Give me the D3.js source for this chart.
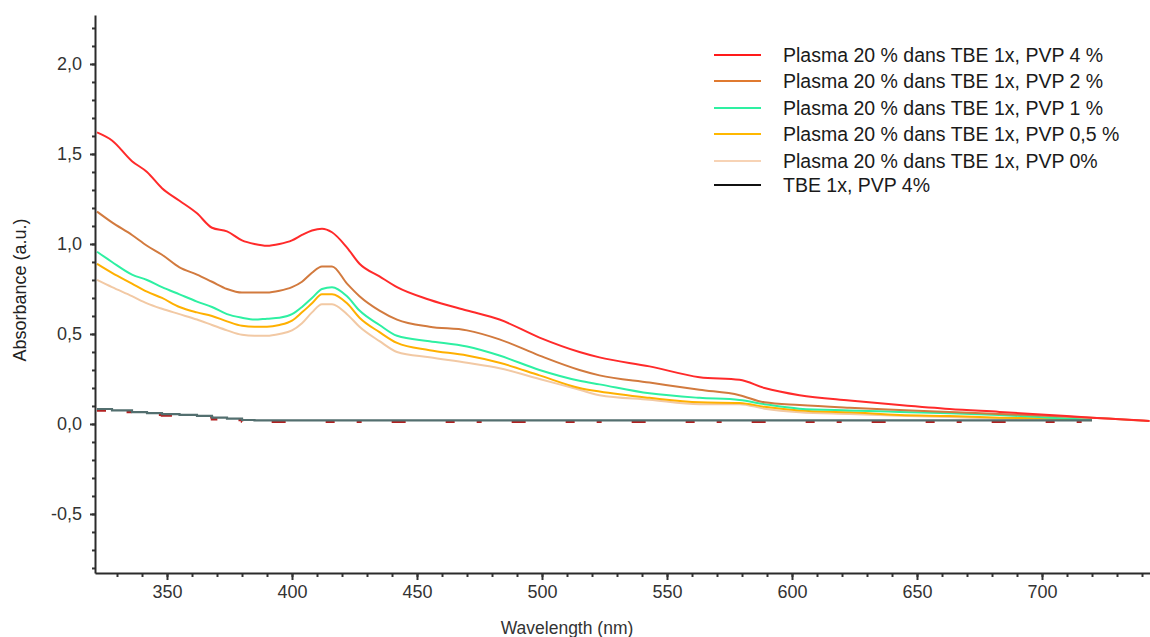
<!DOCTYPE html>
<html>
<head>
<meta charset="utf-8">
<script src="https://cdn.jsdelivr.net/npm/d3@7"></script>
<style>
  html, body { margin: 0; padding: 0; background: #fff; }
  svg { display: block; }
</style>
</head>
<body>
<svg id="chart" width="1150" height="637"></svg>
<script>
// ---- data ----
const wavelengths = [322, 328, 336, 342, 348, 355, 362, 368, 374, 380, 385, 390, 395, 400, 404, 408, 412, 416, 422, 427, 435, 442, 455, 470, 483, 499, 515, 523, 543, 563, 579, 589, 603, 623, 643, 663, 683, 703, 720, 743];

const pvp4 = [1.62, 1.575, 1.46, 1.40, 1.31, 1.24, 1.17, 1.09, 1.07, 1.02, 1.00, 0.99, 1.00, 1.02, 1.05, 1.075, 1.085, 1.065, 0.98, 0.89, 0.82, 0.76, 0.69, 0.63, 0.58, 0.48, 0.40, 0.37, 0.32, 0.26, 0.245, 0.20, 0.16, 0.13, 0.105, 0.083, 0.067, 0.05, 0.035, 0.017];
const pvp2 = [1.18, 1.12, 1.05, 0.99, 0.94, 0.87, 0.83, 0.79, 0.75, 0.73, 0.73, 0.73, 0.74, 0.76, 0.79, 0.84, 0.875, 0.875, 0.78, 0.71, 0.63, 0.58, 0.54, 0.52, 0.47, 0.38, 0.30, 0.27, 0.23, 0.19, 0.16, 0.12, 0.105, 0.09, 0.078, 0.067, 0.056, 0.044, 0.035, 0.017];
const pvp1 = [0.957, 0.90, 0.83, 0.80, 0.76, 0.72, 0.68, 0.65, 0.61, 0.59, 0.58, 0.585, 0.59, 0.61, 0.65, 0.70, 0.75, 0.76, 0.71, 0.63, 0.55, 0.49, 0.46, 0.43, 0.38, 0.30, 0.24, 0.22, 0.17, 0.145, 0.133, 0.11, 0.085, 0.075, 0.067, 0.06, 0.05, 0.035, 0.022, null];
const pvp05 = [0.89, 0.84, 0.78, 0.735, 0.70, 0.65, 0.62, 0.60, 0.57, 0.545, 0.54, 0.54, 0.55, 0.574, 0.62, 0.67, 0.72, 0.72, 0.67, 0.59, 0.51, 0.45, 0.41, 0.38, 0.34, 0.27, 0.20, 0.18, 0.145, 0.12, 0.117, 0.095, 0.075, 0.065, 0.05, 0.044, 0.035, 0.03, 0.022, null];
const pvp0 = [0.80, 0.76, 0.71, 0.67, 0.64, 0.61, 0.58, 0.55, 0.52, 0.495, 0.49, 0.49, 0.50, 0.52, 0.56, 0.62, 0.665, 0.665, 0.61, 0.54, 0.46, 0.40, 0.37, 0.34, 0.31, 0.25, 0.19, 0.16, 0.135, 0.11, 0.11, 0.085, 0.065, 0.055, 0.045, 0.038, 0.03, 0.025, 0.02, null];
const tbe = [0.083, 0.075, 0.066, 0.06, 0.055, 0.05, 0.045, 0.035, 0.03, 0.022, 0.02, 0.02, 0.02, 0.02, 0.02, 0.02, 0.02, 0.02, 0.02, 0.02, 0.02, 0.02, 0.02, 0.02, 0.02, 0.02, 0.02, 0.02, 0.02, 0.02, 0.02, 0.02, 0.02, 0.02, 0.02, 0.02, 0.02, 0.02, 0.02, null];

const seriesNames = [
  "Plasma 20 % dans TBE 1x, PVP 4 %",
  "Plasma 20 % dans TBE 1x, PVP 2 %",
  "Plasma 20 % dans TBE 1x, PVP 1 %",
  "Plasma 20 % dans TBE 1x, PVP 0,5 %",
  "Plasma 20 % dans TBE 1x, PVP 0%",
  "TBE 1x, PVP 4%"
];
const seriesValues = [pvp4, pvp2, pvp1, pvp05, pvp0, tbe];
const seriesColors = ["#ff2a2a", "#d27a3e", "#2ef0a2", "#ffb000", "#f2c9a4", "#536f6f"];
const legendColors = ["#ff1a1a", "#e07a30", "#2ef0a2", "#ffb800", "#f7d3b5", "#111111"];

const xTicks = [350, 400, 450, 500, 550, 600, 650, 700];
const yTicks = [-0.5, 0, 0.5, 1.0, 1.5, 2.0];

// ---- layout ----
const svg = d3.select("#chart");
const mLeft = 95, mRight = 1151, mTop = 15, mBottom = 573;

const x = d3.scaleLinear().domain([321.2, 743.6]).range([mLeft, mRight]);
const y = d3.scaleLinear().domain([-0.828, 2.272]).range([mBottom, mTop]);

const fr = d3.formatLocale({decimal: ",", thousands: ".", grouping: [3], currency: ["", "€"], minus: "-"});
const fmt = fr.format(".1f");

svg.append("defs").append("clipPath").attr("id", "clip")
  .append("rect").attr("x", mLeft).attr("y", mTop).attr("width", mRight - mLeft).attr("height", mBottom - mTop);

const plot = svg.append("g").attr("clip-path", "url(#clip)");

const stepLine = d3.line()
  .defined(d => d[1] !== null)
  .x(d => x(d[0])).y(d => y(d[1]))
  .curve(d3.curveStepAfter);
const smoothLine = d3.line()
  .defined(d => d[1] !== null)
  .x(d => x(d[0])).y(d => y(d[1]))
  .curve(d3.curveMonotoneX);

const tbePts = wavelengths.map((w, i) => [w, tbe[i]]);
plot.append("path").datum(tbePts)
  .attr("d", stepLine)
  .attr("fill", "none")
  .attr("stroke", "#b22020")
  .attr("stroke-width", 2.5)
  .attr("stroke-dasharray", "9,22,5,30,14,40")
  .attr("transform", "translate(0,1.5)");

const order = [4, 3, 2, 1, 0];
order.forEach(si => {
  const pts = wavelengths.map((w, i) => [w, seriesValues[si][i]]);
  plot.append("path").datum(pts)
    .attr("d", smoothLine)
    .attr("fill", "none")
    .attr("stroke", seriesColors[si])
    .attr("stroke-width", 2);
});

plot.append("path").datum(tbePts)
  .attr("d", stepLine)
  .attr("fill", "none")
  .attr("stroke", seriesColors[5])
  .attr("stroke-width", 2.2);

// ---- axes ----
const tickFont = "'Liberation Sans', Arial, sans-serif";

const yMinor = d3.range(-0.8, 2.25, 0.1).map(v => Math.round(v * 10) / 10);
svg.append("g").attr("transform", `translate(${mLeft},0)`)
  .call(d3.axisLeft(y).tickValues(yMinor).tickSize(3).tickSizeOuter(0).tickFormat(""))
  .call(g => g.select(".domain").remove())
  .call(g => g.selectAll(".tick line").attr("stroke", "#333").attr("stroke-width", 2));

const yAxis = svg.append("g").attr("transform", `translate(${mLeft},0)`)
  .call(d3.axisLeft(y).tickValues(yTicks).tickSize(5).tickSizeOuter(0).tickPadding(8).tickFormat(fmt));
yAxis.select(".domain").attr("stroke", "#2b2b2b").attr("stroke-width", 2);
yAxis.selectAll(".tick line").attr("stroke", "#333").attr("stroke-width", 2);
yAxis.selectAll(".tick text").attr("font-family", tickFont).attr("font-size", 18).attr("fill", "#333");

const xMinor = d3.range(330, 750, 10);
svg.append("g").attr("transform", `translate(0,${mBottom})`)
  .call(d3.axisBottom(x).tickValues(xMinor).tickSize(4).tickSizeOuter(0).tickFormat(""))
  .call(g => g.select(".domain").remove())
  .call(g => g.selectAll(".tick line").attr("stroke", "#333").attr("stroke-width", 2));

const xAxis = svg.append("g").attr("transform", `translate(0,${mBottom})`)
  .call(d3.axisBottom(x).tickValues(xTicks).tickSize(7).tickSizeOuter(0).tickPadding(5).tickFormat(d3.format("d")));
xAxis.select(".domain").attr("stroke", "#2b2b2b").attr("stroke-width", 2);
xAxis.selectAll(".tick line").attr("stroke", "#333").attr("stroke-width", 2);
xAxis.selectAll(".tick text").attr("font-family", tickFont).attr("font-size", 18).attr("fill", "#333");

svg.append("text")
  .attr("x", 567).attr("y", 634)
  .attr("text-anchor", "middle")
  .attr("font-family", tickFont).attr("font-size", 17.5).attr("fill", "#333")
  .text("Wavelength (nm)");

svg.append("text")
  .attr("transform", "translate(26,290) rotate(-90)")
  .attr("text-anchor", "middle")
  .attr("font-family", tickFont).attr("font-size", 18).attr("fill", "#222")
  .text("Absorbance (a.u.)");

// ---- legend ----
const legendRows = [55, 81, 108, 134, 161, 185];
const legend = svg.append("g");
seriesNames.forEach((name, i) => {
  legend.append("line")
    .attr("x1", 714).attr("x2", 761)
    .attr("y1", legendRows[i]).attr("y2", legendRows[i])
    .attr("stroke", legendColors[i]).attr("stroke-width", 2);
  legend.append("text")
    .attr("x", 783).attr("y", legendRows[i])
    .attr("dy", "0.35em")
    .attr("font-family", tickFont).attr("font-size", 19.5).attr("fill", "#1a1a1a")
    .text(name);
});
</script>
</body>
</html>
